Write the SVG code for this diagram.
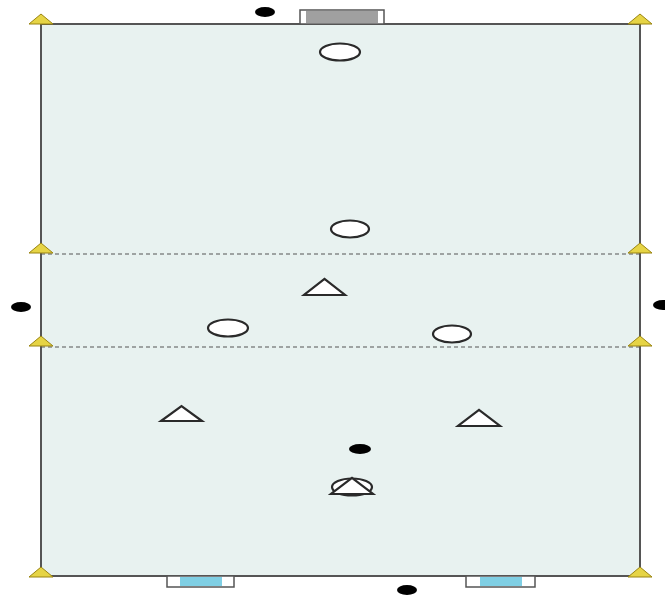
<svg xmlns="http://www.w3.org/2000/svg" width="665" height="596" viewBox="0 0 665 596">
<style>
.field{fill:#e8f2f0;stroke:#555;stroke-width:2}
.dash{stroke:#555;stroke-width:1;stroke-dasharray:4 3;fill:none}
.cone{fill:#e6d445;stroke:#9a8410;stroke-width:1}
.ply{fill:#fff;stroke:#2a2a2a;stroke-width:2.2}
.dot{fill:#000}
.goal{fill:#fff;stroke:#555;stroke-width:1.5}
</style>
<defs>
<polygon id="cone" class="cone" points="-12,0 12,0 0,-10"/>
</defs>
<rect x="0" y="0" width="665" height="596" fill="#fff"/>
<g id="field">
<rect class="field" x="41" y="24" width="599" height="552"/>
</g>
<g id="connectors">
<line class="dash" x1="41" y1="254" x2="640" y2="254"/>
<line class="dash" x1="41" y1="347" x2="640" y2="347"/>
</g>
<g id="goal-top">
<rect class="goal" x="300" y="10" width="84" height="14"/>
<rect x="306" y="11" width="72" height="12" fill="#a0a0a0"/>
</g>
<g id="goal-bottom-left">
<rect class="goal" x="167" y="576" width="67" height="11"/>
<rect x="180" y="577" width="42" height="9" fill="#7fcfe4"/>
</g>
<g id="goal-bottom-right">
<rect class="goal" x="466" y="576" width="69" height="11"/>
<rect x="480" y="577" width="42" height="9" fill="#7fcfe4"/>
</g>
<g id="cones">
<use href="#cone" x="41" y="24"/>
<use href="#cone" x="640" y="24"/>
<use href="#cone" x="41" y="253"/>
<use href="#cone" x="640" y="253"/>
<use href="#cone" x="41" y="346"/>
<use href="#cone" x="640" y="346"/>
<use href="#cone" x="41" y="577"/>
<use href="#cone" x="640" y="577"/>
</g>
<g id="circle1"><ellipse class="ply" cx="340" cy="52" rx="20" ry="8.5"/></g>
<g id="circle2"><ellipse class="ply" cx="350" cy="229" rx="19" ry="8.5"/></g>
<g id="circle3"><ellipse class="ply" cx="228" cy="328" rx="20" ry="8.5"/></g>
<g id="circle4"><ellipse class="ply" cx="452" cy="334" rx="19" ry="8.5"/></g>
<g id="triangle1"><polygon class="ply" points="304,295 345,295 324.5,279"/></g>
<g id="triangle2"><polygon class="ply" points="161,421 202,421 181.5,406"/></g>
<g id="triangle3"><polygon class="ply" points="458,426 500,426 479,410"/></g>
<g id="triangle-circle">
<ellipse class="ply" cx="352" cy="487" rx="20" ry="8.5"/>
<polygon class="ply" points="331,494 373,494 352,478"/>
</g>
<g id="dots">
<ellipse class="dot" cx="265" cy="12" rx="10" ry="5"/>
<ellipse class="dot" cx="21" cy="307" rx="10" ry="5"/>
<ellipse class="dot" cx="663" cy="305" rx="10" ry="5"/>
<ellipse class="dot" cx="360" cy="449" rx="11" ry="5"/>
<ellipse class="dot" cx="407" cy="590" rx="10" ry="5"/>
</g>
</svg>
